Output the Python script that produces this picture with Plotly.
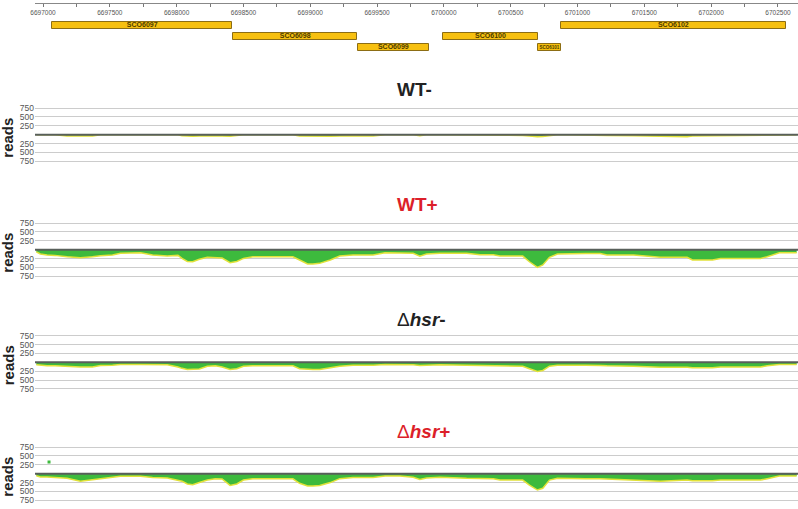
import plotly.graph_objects as go

FONT = "Liberation Sans, Arial, sans-serif"

# genome window shown
x_range = [6696940, 6702650]

# genes
gene_names = ["SCO6097", "SCO6098", "SCO6099", "SCO6100", "SCO6101", "SCO6102"]
gene_start = [6697070, 6698422, 6699355, 6699995, 6700702, 6700876]
gene_end = [6698415, 6699352, 6699888, 6700702, 6700876, 6702558]
gene_row = [1, 2, 3, 2, 3, 1]
gene_label_size = [7, 7, 7, 7, 4.5, 7]

# coverage sample positions (bp)
positions = [6696950, 6696980, 6697030, 6697090, 6697180, 6697280, 6697370, 6697430, 6697520, 6697580,
             6697730, 6697820, 6697930, 6698010, 6698040, 6698080, 6698120, 6698170, 6698230, 6698290,
             6698340, 6698400, 6698450, 6698500, 6698570, 6698700, 6698870, 6698920, 6698980, 6699020,
             6699070, 6699150, 6699220, 6699320, 6699470, 6699560, 6699670, 6699770, 6699820, 6699870,
             6699970, 6700170, 6700270, 6700370, 6700420, 6700590, 6700640, 6700700, 6700740, 6700790,
             6700850, 6700920, 6701060, 6701170, 6701220, 6701420, 6701620, 6701820, 6701860, 6702010,
             6702070, 6702220, 6702370, 6702420, 6702510, 6702640]

# reads on the minus strand, per sample
wt_minus = [0, 0, 0, 0, 40, 45, 40, 0, 0, 0,
            0, 0, 0, 0, 30, 45, 45, 40, 35, 35,
            35, 45, 20, 0, 0, 0, 0, 40, 45, 45,
            45, 45, 40, 30, 40, 0, 0, 0, 30, 0,
            0, 0, 0, 0, 20, 20, 40, 60, 50, 20,
            0, 0, 0, 0, 20, 30, 40, 60, 40, 30,
            20, 20, 0, 0, 0, 0]
wt_plus = [60, 120, 150, 160, 200, 225, 200, 170, 150, 100,
           85, 150, 180, 160, 245, 330, 340, 270, 215, 215,
           235, 365, 330, 245, 200, 200, 200, 290, 400, 400,
           385, 290, 180, 150, 150, 85, 85, 100, 180, 120,
           100, 100, 140, 140, 180, 180, 340, 500, 430, 215,
           120, 110, 110, 110, 150, 150, 215, 215, 290, 290,
           245, 245, 245, 200, 85, 85]
hsr_minus = [70, 85, 100, 100, 120, 130, 130, 90, 85, 65,
             65, 65, 70, 130, 170, 200, 200, 190, 110, 100,
             130, 200, 180, 110, 100, 100, 100, 180, 200, 200,
             200, 150, 110, 85, 85, 60, 55, 70, 90, 80,
             70, 80, 90, 95, 100, 110, 180, 260, 230, 110,
             85, 80, 80, 90, 100, 110, 140, 140, 150, 150,
             135, 130, 130, 100, 60, 60]
hsr_plus = [60, 90, 95, 110, 130, 210, 175, 140, 100, 75,
            75, 110, 120, 180, 210, 290, 310, 250, 180, 140,
            150, 330, 290, 180, 140, 140, 145, 270, 345, 345,
            330, 250, 140, 110, 110, 65, 65, 100, 160, 120,
            100, 130, 140, 140, 180, 180, 320, 460, 410, 180,
            130, 140, 140, 140, 150, 170, 210, 180, 200, 200,
            180, 180, 180, 140, 65, 65]

# single plus-strand spike in hsr+
spike_pos = [6697045]
spike_reads = [330]

tracks = [
    ("<b>WT-</b>", "#222222", wt_minus),
    ("<b>WT+</b>", "#dc1f2a", wt_plus),
    ("Δ<b><i>hsr</i>-</b>", "#222222", hsr_minus),
    ("Δ<b><i>hsr</i>+</b>", "#dc1f2a", hsr_plus),
]

H = 509


def py(px):
    return 1 - px / H


baselines = [134.7, 249.7, 362.3, 473.7]
title_y = [89.5, 204.5, 319.5, 431]

fig = go.Figure()

# gene boxes
fig.add_trace(go.Bar(
    y=gene_row,
    x=[e - s for s, e in zip(gene_start, gene_end)],
    base=gene_start,
    orientation="h",
    width=0.64,
    marker=dict(color="#f7c010", line=dict(color="#8c6d14", width=1)),
    xaxis="x", yaxis="y",
    showlegend=False,
))
fig.add_trace(go.Scatter(
    x=[(s + e) / 2 for s, e in zip(gene_start, gene_end)],
    y=gene_row,
    mode="text",
    text=[f"<b>{n}</b>" for n in gene_names],
    textfont=dict(size=gene_label_size, color="#4a3a00", family=FONT),
    xaxis="x", yaxis="y",
    showlegend=False,
))

layout = dict(
    width=798, height=509,
    margin=dict(l=35, r=0, t=0, b=0, autoexpand=False),
    paper_bgcolor="white", plot_bgcolor="white",
    showlegend=False,
    font=dict(family=FONT),
    bargap=0,
    # genome ruler
    xaxis=dict(domain=[0, 1], range=x_range, anchor="free", position=py(3), side="bottom",
               automargin=False,
               tick0=6697000, dtick=500, tickformat="d",
               ticks="outside", ticklen=3, tickcolor="#777",
               minor=dict(dtick=250, tick0=6697000, ticks="outside", ticklen=3, tickcolor="#777"),
               showline=True, linecolor="#888", linewidth=1,
               showgrid=False, zeroline=False,
               tickfont=dict(size=6.5, color="#555")),
    yaxis=dict(domain=[py(58), py(3)], range=[3.955, -1.045], visible=False, automargin=False),
)

shapes = []
annotations = []

for i, (title, color, reads) in enumerate(tracks):
    n = i + 2
    xa, ya = f"x{n}", f"y{n}"
    b = baselines[i]
    # green coverage with yellow edge
    fig.add_trace(go.Scatter(
        x=positions, y=[-r for r in reads],
        mode="lines", fill="tozeroy", fillcolor="#3dba3d",
        line=dict(color="#e2e23a", width=1.5),
        xaxis=xa, yaxis=ya, showlegend=False,
    ))
    layout[f"xaxis{n}"] = dict(domain=[0, 1], range=x_range, anchor=ya, visible=False, automargin=False)
    layout[f"yaxis{n}"] = dict(
        domain=[py(b + 30), py(b - 30)], range=[-845, 845], anchor=xa, automargin=False,
        tickvals=[-750, -500, -250, 250, 500, 750],
        ticktext=["750", "500", "250", "250", "500", "750"],
        showgrid=True, gridcolor="#cccccc", gridwidth=1.2,
        zeroline=False, showline=False, ticks="",
        tickfont=dict(size=8.5, color="#555"),
    )
    # baseline
    shapes.append(dict(type="line", xref="paper", yref=ya, x0=0, x1=1, y0=0, y1=0,
                       line=dict(color="#585f5a", width=2), layer="above"))
    annotations.append(dict(text=title, x=(395 - 35) / 763, xref="paper", xanchor="left",
                            y=py(title_y[i]), yref="paper", yanchor="middle", showarrow=False,
                            font=dict(size=19, color=color, family=FONT)))
    annotations.append(dict(text="<b>reads</b>", textangle=-90, x=(8 - 35) / 763, xref="paper",
                            xanchor="center", y=py(b + 3), yref="paper", yanchor="middle",
                            showarrow=False, font=dict(size=15, color="#222", family=FONT)))

# hsr+ spike
fig.add_trace(go.Scatter(
    x=spike_pos, y=spike_reads, mode="markers",
    marker=dict(symbol="square", size=3, color="#3dba3d"),
    xaxis="x5", yaxis="y5", showlegend=False,
))

layout["shapes"] = shapes
layout["annotations"] = annotations
fig.update_layout(**layout)

# drop the page's default body margin so the figure sits at the window's corner
fig.write_html("out.html", config={"displayModeBar": False},
               post_script="document.body.style.margin='0';")
